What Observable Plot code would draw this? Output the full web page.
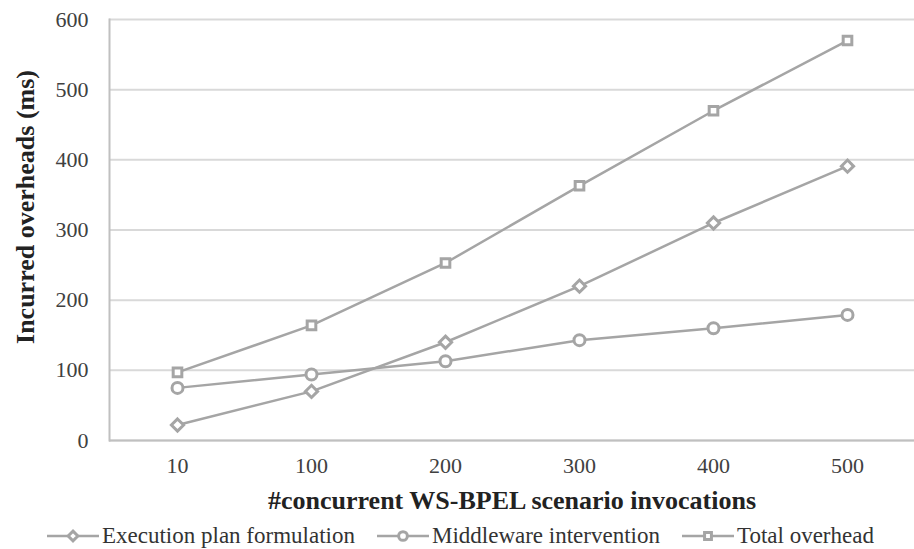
<!DOCTYPE html>
<html>
<head>
<meta charset="utf-8">
<script src="https://cdn.jsdelivr.net/npm/d3@7"></script>
<script src="https://cdn.jsdelivr.net/npm/@observablehq/plot@0.6"></script>
<style>
  html, body { margin: 0; padding: 0; background: #fff; }
  #legend { display: flex; align-items: center; height: 31px; margin-top: 2px; padding-left: 47px;
            font-family: "Liberation Serif", "Times New Roman", serif; font-size: 23px; color: #333; }
  #legend .item { display: flex; align-items: center; margin-right: 22px; }
  #legend svg { margin-right: 3px; }
</style>
</head>
<body>
<div id="chart"></div>
<div id="legend"></div>
<script>
const categories = ["10", "100", "200", "300", "400", "500"];
const seriesNames = ["Execution plan formulation", "Middleware intervention", "Total overhead"];
const execution = [22, 70, 140, 220, 310, 391];
const middleware = [75, 94, 113, 143, 160, 179];
const total = [97, 164, 253, 363, 470, 570];
const yTicks = [0, 100, 200, 300, 400, 500, 600];
const symbols = ["diamond2", "circle", "square2"];
const xTitle = "#concurrent WS-BPEL scenario invocations";
const yTitle = "Incurred overheads (ms)";

const seriesValues = [execution, middleware, total];
const rows = [];
seriesNames.forEach((s, i) => categories.forEach((c, j) => rows.push({series: s, x: c, y: seriesValues[i][j]})));

const grey = "#a5a5a5";
const plot = Plot.plot({
  width: 914,
  height: 518,
  marginTop: 19,
  marginLeft: 109,
  marginRight: 0,
  marginBottom: 78,
  style: {fontFamily: "Liberation Serif, Times New Roman, serif", fontSize: "22px", color: "#404040", background: "#fff"},
  x: {type: "point", domain: categories, padding: 0.5},
  y: {domain: [0, 600]},
  symbol: {domain: seriesNames, range: symbols},
  marks: [
    Plot.gridY(yTicks, {stroke: "#d9d9d9", strokeOpacity: 1, strokeWidth: 2}),
    Plot.ruleY([0], {stroke: "#c0c0c0", strokeWidth: 2}),
    Plot.frame({anchor: "left", stroke: "#c0c0c0", strokeWidth: 2}),
    Plot.axisY(yTicks, {tickSize: 0, tickPadding: 21, label: null, fill: "#404040"}),
    Plot.axisX({tickSize: 0, tickPadding: 17, label: null, fill: "#404040"}),
    Plot.line(rows, {x: "x", y: "y", z: "series", stroke: grey, strokeWidth: 2.5}),
    Plot.dot(rows, {x: "x", y: "y", symbol: "series", r: 5.5, stroke: grey, strokeWidth: 3, fill: "white"}),
    Plot.text([xTitle], {text: d => d, frameAnchor: "bottom", dy: 60, fontWeight: "bold", fontSize: 26, fill: "#222", lineAnchor: "middle"}),
    Plot.text([yTitle], {text: d => d, frameAnchor: "left", dx: -84, dy: -23, rotate: -90, textAnchor: "middle", fontWeight: "bold", fontSize: 26, fill: "#222", lineAnchor: "middle"})
  ]
});
document.getElementById("chart").appendChild(plot);

// Legend (HTML, below the chart)
const legend = d3.select("#legend");
const legendSymbols = [d3.symbolDiamond2, d3.symbolCircle, d3.symbolSquare2];
seriesNames.forEach((s, i) => {
  const item = legend.append("div").attr("class", "item");
  const sv = item.append("svg").attr("width", 52).attr("height", 20);
  sv.append("line").attr("x1", 0).attr("x2", 52).attr("y1", 10).attr("y2", 10).attr("stroke", grey).attr("stroke-width", 2.5);
  sv.append("path").attr("transform", "translate(26,10)")
    .attr("d", d3.symbol(legendSymbols[i], 60)())
    .attr("fill", "white").attr("stroke", grey).attr("stroke-width", 3);
  item.append("span").text(s);
});
</script>
</body>
</html>
